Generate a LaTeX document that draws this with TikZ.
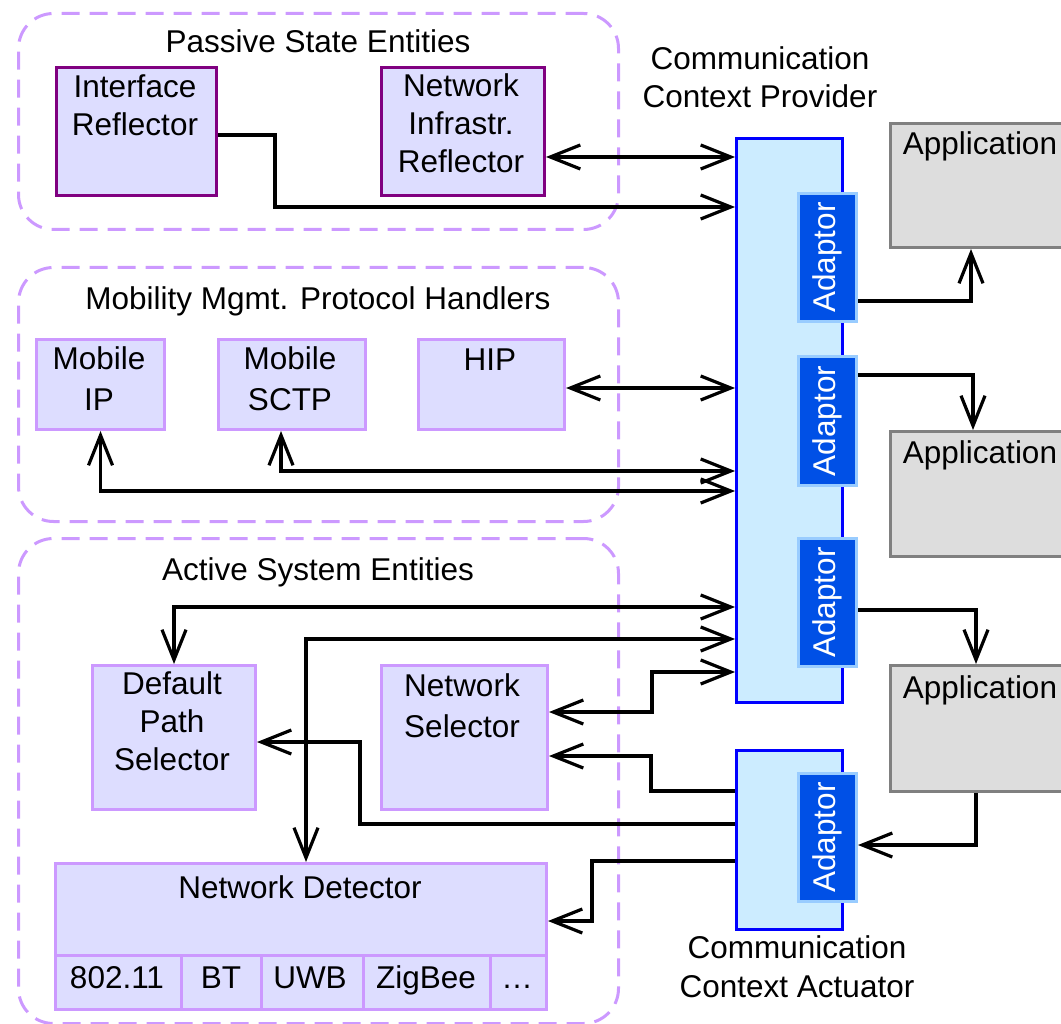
\documentclass[tikz,border=0pt]{standalone}
\usepackage{fontspec}
\setmainfont{Liberation Sans}
\usetikzlibrary{arrows.meta}
\definecolor{grpc}{HTML}{CC99FF}
\definecolor{boxfill}{HTML}{DDDDFF}
\definecolor{pur}{HTML}{800080}
\definecolor{ccpfill}{HTML}{CCECFF}
\definecolor{ccpline}{HTML}{0000FF}
\definecolor{adfill}{HTML}{0050E6}
\definecolor{adline}{HTML}{99CCFF}
\definecolor{appfill}{HTML}{DDDDDD}
\definecolor{appline}{HTML}{808080}
\begin{document}
\begin{tikzpicture}[x=1pt,y=-1pt,
 font=\fontsize{31.5}{38}\selectfont,
 grp/.style={draw=grpc, line width=3pt, dash pattern=on 18pt off 10pt, rounded corners=35pt, anchor=north west, inner sep=0},
 bx/.style={draw=grpc, fill=boxfill, line width=3pt, anchor=north west, inner sep=0},
 pbx/.style={bx, draw=pur},
 ccpst/.style={draw=ccpline, fill=ccpfill, line width=3pt, anchor=north west, inner sep=0},
 adst/.style={draw=adline, fill=adfill, line width=3pt, anchor=north west, inner sep=0},
 appst/.style={draw=appline, fill=appfill, line width=3pt, anchor=north west, inner sep=0},
 txt/.style={anchor=base, inner sep=0, align=center},
 adtxt/.style={rotate=90, text=white, inner sep=0},
 conn/.style={line width=3.2pt},
 >={Straight Barb[length=30pt,width=24pt]}
]
\useasboundingbox (0,0) rectangle (1061,1024);
\clip (0,0) rectangle (1061,1024);

% groups
\node[grp, minimum width=600pt, minimum height=216pt] (g1) at (17,12) {};
\node[grp, minimum width=600pt, minimum height=254pt] (g2) at (17,266) {};
\node[grp, minimum width=600pt, minimum height=485pt] (g3) at (17,537) {};
\node[txt] (t1) at (318,53) {Passive State Entities};
\node[txt] (t2) at (318,310) {Mobility Mgmt. Protocol Handlers};
\node[txt] (t3) at (318,580) {Active System Entities};

% passive boxes (anchor=base uses the last line)
\node[pbx, minimum width=160pt, minimum height=128pt] (ir) at (55,66) {};
\node[pbx, minimum width=163pt, minimum height=128pt] (nir) at (380,66) {};
\node[txt] (irt) at (135,136) {Interface\\Reflector};
\node[txt] (nirt) at (461,173) {Network\\Infrastr.\\Reflector};

% mobility boxes
\node[bx, minimum width=128pt, minimum height=90pt] (mip) at (35,338) {};
\node[bx, minimum width=147pt, minimum height=90pt] (msctp) at (217,338) {};
\node[bx, minimum width=146pt, minimum height=90pt] (hip) at (417,338) {};
\node[txt] (mipt) at (99,410) {Mobile\\[2pt]IP};
\node[txt] (msctpt) at (290,410) {Mobile\\[2pt]SCTP};
\node[txt] (hipt) at (490,371) {HIP};

% active boxes
\node[bx, minimum width=163pt, minimum height=144pt] (dps) at (91,664) {};
\node[bx, minimum width=166pt, minimum height=144pt] (ns) at (380,664) {};
\node[bx, minimum width=491pt, minimum height=146pt] (nd) at (54,862) {};
\node[txt] (dpst) at (172,770) {Default\\Path\\Selector};
\node[txt] (nst) at (462,737) {Network\\[3pt]Selector};
\node[txt] (ndt) at (300,898) {Network Detector};
\draw[draw=grpc, line width=3pt] (nd.west |- 0,955) -- (nd.east |- 0,955);
\foreach \xx in {181,261,363,490} \draw[draw=grpc, line width=3pt] (\xx,955) -- (\xx,955 |- nd.south);
\node[txt] (c1) at (117,988) {802.11};
\node[txt] (c2) at (221,988) {BT};
\node[txt] (c3) at (310,988) {UWB};
\node[txt] (c4) at (426,988) {ZigBee};
\node[txt] (c5) at (517,988) {\dots};

% provider / actuator
\node[ccpst, minimum width=106pt, minimum height=564pt] (ccp) at (735,137) {};
\node[adst, minimum width=58pt, minimum height=128pt] (ad1) at (797,192) {};
\node[adst, minimum width=58pt, minimum height=129pt] (ad2) at (797,355) {};
\node[adst, minimum width=58pt, minimum height=128pt] (ad3) at (797,537) {};
\node[ccpst, minimum width=106pt, minimum height=179pt] (cca) at (735,749) {};
\node[adst, minimum width=58pt, minimum height=128pt] (ad4) at (797,772) {};
\foreach \a in {ad1,ad2,ad3,ad4} \node[adtxt] at (\a.center) {Adaptor};
\node[txt] (ccpt) at (760,108) {Communication\\Context Provider};
\node[txt] (ccat) at (797,997) {Communication\\[1pt]Context Actuator};

% applications
\node[appst, minimum width=182pt, minimum height=124pt] (app1) at (889,122) {};
\node[appst, minimum width=182pt, minimum height=125pt] (app2) at (889,430) {};
\node[appst, minimum width=182pt, minimum height=126pt] (app3) at (889,664) {};
\node[txt] (a1t) at (980,155) {Application};
\node[txt] (a2t) at (980,463) {Application};
\node[txt] (a3t) at (980,698) {Application};

% connectors
\draw[conn,<->] (nir.east |- 0,157) -- (ccp.west |- 0,157);
\draw[conn,->] (ir.east |- 0,135) -| (275,207) -- (ccp.west |- 0,207);
\draw[conn,<->] (hip.east |- 0,388) -- (ccp.west |- 0,388);
\draw[conn,<->] (msctp.south -| 281,0) |- (ccp.west |- 0,471);
\draw[conn,<->] (mip.south) |- (ccp.west |- 0,491);
\draw[conn,<->] (dps.north) |- (ccp.west |- 0,607);
\draw[conn,<->] (nd.north -| 306,0) |- (ccp.west |- 0,639);
\draw[conn,<->] (ns.east |- 0,712) -| (652,672) -- (ccp.west |- 0,672);
\draw[conn,->] (cca.west |- 0,791) -| (651,756) -- (ns.east |- 0,756);
\draw[conn,->] (cca.west |- 0,824) -| (360,742) -- (dps.east |- 0,742);
\draw[conn,->] (cca.west |- 0,861) -| (592,921) -- (nd.east |- 0,921);
\draw[conn,->] (ad1.east |- 0,301) -| (app1.south -| 971,0);
\draw[conn,->] (ad2.east |- 0,375) -| (app2.north -| 973,0);
\draw[conn,->] (ad3.east |- 0,610) -| (app3.north -| 976,0);
\draw[conn,->] (app3.south -| 976,0) |- (ad4.east |- 0,845);
\end{tikzpicture}
\end{document}
